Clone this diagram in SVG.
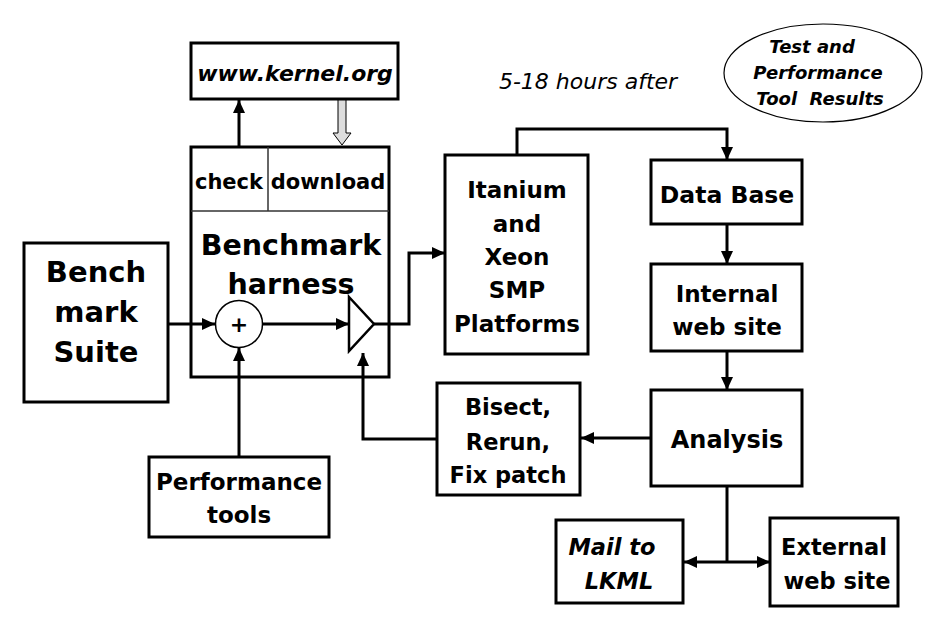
<svg xmlns="http://www.w3.org/2000/svg" width="933" height="619" viewBox="0 0 933 619">
<defs>
<marker id="ah" markerUnits="userSpaceOnUse" markerWidth="14" markerHeight="12" refX="13" refY="6" orient="auto">
<path d="M0,0 L13,6 L0,12 Z" fill="#000"/>
</marker>
</defs>
<style>
.box{fill:#fff;stroke:#000;stroke-width:3}
.t{font-family:"DejaVu Sans","Liberation Sans",sans-serif;font-weight:bold;text-anchor:middle;fill:#000}
.i{font-style:italic}
.ln{fill:none;stroke:#000;stroke-width:3}
.ar{fill:none;stroke:#000;stroke-width:3;marker-end:url(#ah)}
.thin{stroke:#333;stroke-width:1.5;fill:none}
</style>
<rect width="933" height="619" fill="#fff"/>

<g id="kernel">
<rect class="box" x="191" y="43" width="207" height="56"/>
<text class="t i" x="295" y="81" font-size="22">www.kernel.org</text>
</g>

<g id="harness">
<rect class="box" x="191" y="147" width="198" height="230"/>
<line class="thin" x1="191" y1="211" x2="389" y2="211"/>
<line class="thin" x1="268" y1="147" x2="268" y2="211"/>
<text class="t" x="229" y="189" font-size="21">check</text>
<text class="t" x="328" y="189" font-size="21">download</text>
<text class="t" x="291" y="255" font-size="28.5">Benchmark</text>
<text class="t" x="291" y="294" font-size="28.5">harness</text>
</g>

<g id="adder">
<circle cx="239" cy="324" r="23.5" fill="#fff" stroke="#000" stroke-width="1.5"/>
<text class="t" x="239" y="332" font-size="22">+</text>
</g>

<g id="amp">
<polygon points="349,297 374,324 349,351" fill="#fff" stroke="#000" stroke-width="2.5"/>
</g>

<g id="suite">
<rect class="box" x="24" y="243" width="144" height="159"/>
<text class="t" x="96" y="282" font-size="29">Bench</text>
<text class="t" x="96" y="322" font-size="29">mark</text>
<text class="t" x="96" y="362" font-size="29">Suite</text>
</g>

<g id="perftools">
<rect class="box" x="149" y="457" width="180" height="80"/>
<text class="t" x="239" y="490" font-size="23">Performance</text>
<text class="t" x="239" y="523" font-size="23">tools</text>
</g>

<g id="platforms">
<rect class="box" x="445" y="155" width="143" height="199"/>
<text class="t" x="517" y="198" font-size="23">Itanium</text>
<text class="t" x="517" y="232" font-size="23">and</text>
<text class="t" x="517" y="265" font-size="23">Xeon</text>
<text class="t" x="517" y="298" font-size="23">SMP</text>
<text class="t" x="517" y="332" font-size="23">Platforms</text>
</g>

<g id="hours">
<text class="i" x="588" y="89" font-size="22" font-family="DejaVu Sans, Liberation Sans, sans-serif" text-anchor="middle">5-18 hours after</text>
</g>

<g id="results">
<ellipse cx="823" cy="73" rx="99" ry="49" fill="#fff" stroke="#000" stroke-width="1.2"/>
<text class="t i" x="812" y="53" font-size="18">Test and</text>
<text class="t i" x="818" y="79" font-size="18">Performance</text>
<text class="t i" x="820" y="105" font-size="18" xml:space="preserve">Tool  Results</text>
</g>

<g id="database">
<rect class="box" x="651" y="160" width="151" height="64"/>
<text class="t" x="727" y="203" font-size="23.5">Data Base</text>
</g>

<g id="internal">
<rect class="box" x="651" y="264" width="151" height="87"/>
<text class="t" x="727" y="302" font-size="23">Internal</text>
<text class="t" x="727" y="335" font-size="23">web site</text>
</g>

<g id="analysis">
<rect class="box" x="651" y="390" width="151" height="96"/>
<text class="t" x="727" y="448" font-size="24">Analysis</text>
</g>

<g id="bisect">
<rect class="box" x="437" y="383" width="143" height="112"/>
<text class="t" x="508" y="415" font-size="22.5">Bisect,</text>
<text class="t" x="508" y="450" font-size="22.5">Rerun,</text>
<text class="t" x="508" y="483" font-size="22.5">Fix patch</text>
</g>

<g id="mail">
<rect class="box" x="556" y="520" width="127" height="83"/>
<text class="t i" x="612" y="555" font-size="22.5">Mail to</text>
<text class="t i" x="619" y="589" font-size="22.5">LKML</text>
</g>

<g id="external">
<rect class="box" x="770" y="518" width="128" height="88"/>
<text class="t" x="834" y="555" font-size="22.5">External</text>
<text class="t" x="837" y="589" font-size="22.5">web site</text>
</g>

<g id="connectors">
<line class="ar" x1="239" y1="147" x2="239" y2="100"/>
<path d="M338,100 L346,100 L346,133 L351,133 L342,145 L333,133 L338,133 Z" fill="#ddd" stroke="#000" stroke-width="1"/>
<line class="ar" x1="168" y1="324" x2="215" y2="324"/>
<line class="ar" x1="263" y1="324" x2="349" y2="324"/>
<path class="ar" d="M374,324 L409,324 L409,253 L445,253"/>
<line class="ar" x1="239" y1="457" x2="239" y2="348"/>
<path class="ar" d="M437,439 L363,439 L363,353"/>
<path class="ar" d="M517,155 L517,129 L727,129 L727,160"/>
<line class="ar" x1="727" y1="224" x2="727" y2="264"/>
<line class="ar" x1="727" y1="351" x2="727" y2="390"/>
<line class="ar" x1="651" y1="438" x2="581" y2="438"/>
<line class="ln" x1="727" y1="486" x2="727" y2="562"/>
<line class="ar" x1="727" y1="562" x2="684" y2="562"/>
<line class="ar" x1="727" y1="562" x2="770" y2="562"/>
</g>
</svg>
